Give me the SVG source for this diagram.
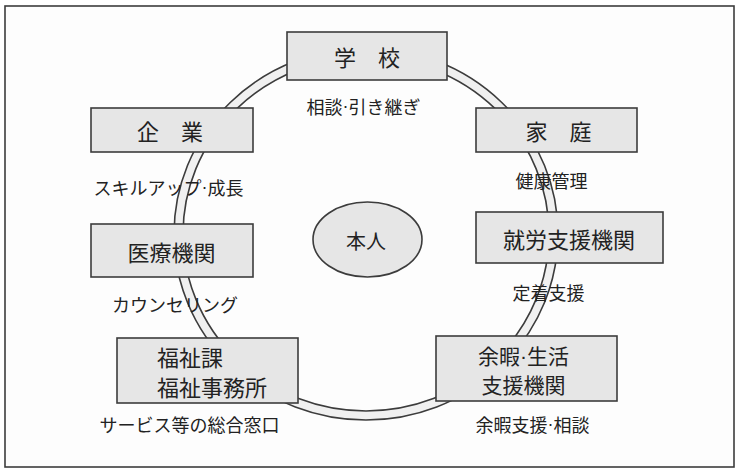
<svg xmlns="http://www.w3.org/2000/svg" width="740" height="474" viewBox="0 0 740 474">
<style>
  .box { fill: #e6e6e6; stroke: #3c3c3c; stroke-width: 1.6; }
  .t { font-family: "Noto Sans CJK JP", "Noto Sans", sans-serif; fill: #222; dominant-baseline: central; }
  .big { font-size: 22px; }
  .lbl { font-size: 18px; }
  .dot { font-family: "Liberation Sans", sans-serif; }
  .ring-line { fill: none; stroke: #3c3c3c; stroke-width: 1.6; }
</style>
<rect x="0" y="0" width="740" height="474" fill="#ffffff"/>
<rect x="5" y="6" width="729" height="461" fill="#fdfdfd" stroke="#3c3c3c" stroke-width="1.6"/>

<g id="connectors">
  <ellipse cx="366" cy="234" rx="187.5" ry="181.5" fill="none" stroke="#f0f0f0" stroke-width="9"/>
  <ellipse class="ring-line" cx="366" cy="234" rx="192" ry="186"/>
  <ellipse class="ring-line" cx="366" cy="234" rx="183" ry="177"/>
</g>

<g id="honnin">
  <ellipse cx="367.5" cy="239.5" rx="54.5" ry="37.5" fill="#e6e6e6" stroke="#3c3c3c" stroke-width="1.6"/>
  <text class="t" x="366" y="240" font-size="20" text-anchor="middle">本人</text>
</g>

<g id="gakkou">
  <rect class="box" x="287" y="32" width="160" height="48"/>
  <text class="t big" x="367" y="56" text-anchor="middle">学　校</text>
  <text class="t lbl" x="363.5" y="106" text-anchor="middle">相談<tspan class="dot">·</tspan>引き継ぎ</text>
</g>

<g id="kigyou">
  <rect class="box" x="91" y="108" width="162" height="44"/>
  <text class="t big" x="170" y="130" text-anchor="middle">企　業</text>
  <text class="t lbl" x="168.5" y="187" text-anchor="middle" font-size="19">スキルアップ<tspan class="dot">·</tspan>成長</text>
</g>

<g id="katei">
  <rect class="box" x="476" y="108" width="161" height="44"/>
  <text class="t big" x="558.5" y="130" text-anchor="middle">家　庭</text>
  <text class="t lbl" x="551.5" y="180" text-anchor="middle" font-size="19">健康管理</text>
</g>

<g id="iryou">
  <rect class="box" x="91" y="224" width="162" height="53"/>
  <text class="t big" x="171.5" y="251" text-anchor="middle">医療機関</text>
  <text class="t lbl" x="175" y="304" text-anchor="middle" font-size="16">カウンセリング</text>
</g>

<g id="shuurou">
  <rect class="box" x="476" y="212" width="187" height="51"/>
  <text class="t big" x="569" y="238" text-anchor="middle">就労支援機関</text>
  <text class="t lbl" x="548.5" y="292" text-anchor="middle" font-size="19">定着支援</text>
</g>

<g id="fukushi">
  <rect class="box" x="117" y="338" width="181" height="65"/>
  <text class="t big" x="157" y="356">福祉課</text>
  <text class="t big" x="157" y="386">福祉事務所</text>
  <text class="t lbl" x="189.5" y="424" text-anchor="middle">サービス等の総合窓口</text>
</g>

<g id="yoka">
  <rect class="box" x="436" y="336" width="181" height="65"/>
  <text class="t" x="523.5" y="355" text-anchor="middle" font-size="21">余暇<tspan class="dot">·</tspan>生活</text>
  <text class="t" x="523.5" y="384" text-anchor="middle" font-size="21">支援機関</text>
  <text class="t lbl" x="532.5" y="424" text-anchor="middle" font-size="19">余暇支援<tspan class="dot">·</tspan>相談</text>
</g>
</svg>
